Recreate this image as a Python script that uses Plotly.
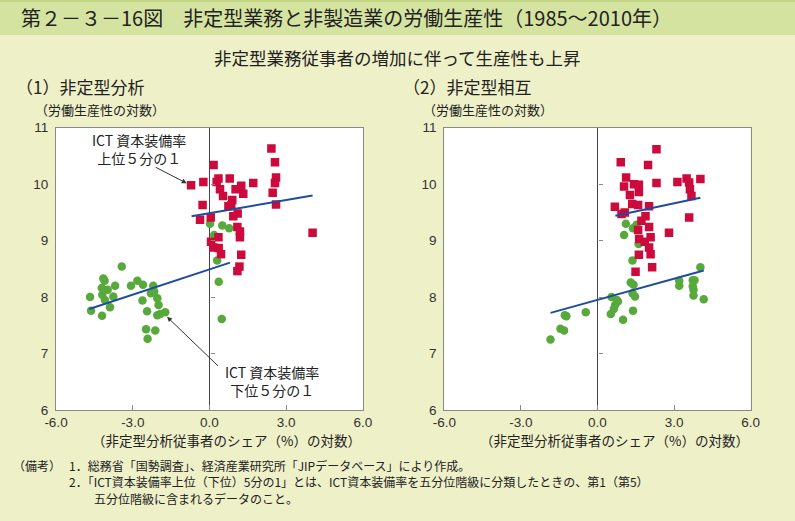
import plotly.graph_objects as go

W, H = 795, 521

# ---- data: (1) 非定型分析 ----
l_red_x = [-0.72, -0.24, 0.16, 0.35, 0.28, 0.79, 0.41, 0.53, 1.02, 1.24, 1.32, 1.71, 2.42, 2.56, 2.60, 2.56, 2.47, 2.60,
           0.89, 0.74, 0.85, -0.27, 1.10, 0.93, 0.05, -0.37, 1.09, 1.19, 1.19, 4.03, 0.35, 0.06, 0.15, 0.36, 0.45, 1.24, 1.17, 1.09]
l_red_y = [9.98, 10.04, 10.34, 10.10, 10.04, 10.10, 9.91, 9.79, 9.91, 9.97, 9.83, 10.02, 10.63, 10.39, 10.12, 10.02, 9.85, 9.64,
           9.72, 9.61, 9.62, 9.63, 9.48, 9.43, 9.41, 9.37, 9.24, 9.16, 9.06, 9.14, 9.06, 8.98, 8.88, 8.87, 8.76, 8.75, 8.54, 8.46]
l_grn_x = [0.02, 0.50, 0.77, 0.18, 0.30, 0.36, 0.48, -3.43, -4.15, -4.10, -3.69, -4.21, -3.98, -4.19, -4.09, -3.76, -4.67, -4.63,
           -4.20, -3.89, -3.07, -2.82, -2.60, -2.20, -2.16, -2.29, -2.04, -2.62, -1.99, -2.44, -2.04, -1.93, -1.73, -2.48, -2.12, -2.42]
l_grn_y = [9.30, 9.27, 9.22, 9.10, 8.65, 8.27, 7.61, 8.54, 8.33, 8.29, 8.20, 8.16, 8.13, 8.04, 7.95, 8.01, 8.00, 7.76,
           7.67, 7.82, 8.20, 8.29, 8.22, 8.20, 8.10, 8.07, 7.98, 7.94, 7.86, 7.75, 7.68, 7.70, 7.73, 7.43, 7.41, 7.26]
l_fit_hi_x = [-0.70, 4.03]
l_fit_hi_y = [9.43, 9.80]
l_fit_lo_x = [-4.70, 0.80]
l_fit_lo_y = [7.79, 8.61]

# ---- data: (2) 非定型相互 ----
r_red_x = [2.31, 0.91, 1.98, 1.12, 1.04, 1.43, 1.62, 1.62, 1.27, 2.31, 3.13, 3.49, 3.59, 3.62, 3.68, 4.03, 0.68, 1.36,
           1.59, 2.02, 0.94, 1.07, 1.88, 1.72, 3.59, 2.02, 1.59, 2.80, 1.63, 2.08, 1.85, 2.02, 2.08, 1.62, 2.14, 1.49]
r_red_y = [10.62, 10.39, 10.34, 10.12, 9.96, 10.00, 9.99, 9.86, 9.81, 10.02, 10.04, 10.10, 10.03, 9.91, 9.79, 10.09, 9.60, 9.65,
           9.63, 9.61, 9.47, 9.50, 9.43, 9.35, 9.41, 9.24, 9.19, 9.14, 9.03, 9.06, 8.98, 8.88, 8.76, 8.75, 8.53, 8.45]
r_grn_x = [1.11, 1.39, 1.53, 1.04, 1.61, 1.37, 4.03, 1.30, 1.41, 1.37, 1.47, 3.20, 3.20, 3.73, 3.80, 3.73, 3.76, 3.76, 4.16,
           0.55, 0.76, 0.80, 0.69, 0.64, 0.52, 1.00, 1.39, -0.46, -1.28, -1.22, -1.45, -1.31, -1.84]
r_grn_y = [9.30, 9.22, 9.28, 9.10, 8.94, 8.65, 8.53, 8.26, 8.22, 8.07, 8.01, 8.29, 8.20, 8.30, 8.30, 8.19, 8.13, 8.03, 7.96,
           8.00, 7.95, 7.92, 7.86, 7.79, 7.70, 7.60, 7.76, 7.73, 7.68, 7.66, 7.44, 7.41, 7.25]
r_fit_hi_x = [0.70, 4.03]
r_fit_hi_y = [9.44, 9.76]
r_fit_lo_x = [-1.84, 4.16]
r_fit_lo_y = [7.72, 8.47]

x_ticks = [-6, -3, 0, 3, 6]
x_tick_text = ["-6.0", "-3.0", "0.0", "3.0", "6.0"]
y_ticks = [6, 7, 8, 9, 10, 11]

RED = "#cc0a3c"
GREEN = "#58a93c"
BLUE = "#1f4c9e"
BG = "#eef0c8"
FONT = "Noto Sans CJK JP"
NUM = "Liberation Sans"

def px(x):
    return x / W

def py(y):
    return 1 - y / H

fig = go.Figure()

def add_panel(xa, ya, gx, gy, rx, ry, hx, hy, lx, ly):
    fig.add_trace(go.Scatter(x=gx, y=gy, mode="markers", xaxis=xa, yaxis=ya,
                             marker=dict(symbol="circle", size=8.5, color=GREEN), showlegend=False, hoverinfo="skip"))
    fig.add_trace(go.Scatter(x=rx, y=ry, mode="markers", xaxis=xa, yaxis=ya,
                             marker=dict(symbol="square", size=8.5, color=RED), showlegend=False, hoverinfo="skip"))
    fig.add_trace(go.Scatter(x=hx, y=hy, mode="lines", xaxis=xa, yaxis=ya,
                             line=dict(color=BLUE, width=2), showlegend=False, hoverinfo="skip"))
    fig.add_trace(go.Scatter(x=lx, y=ly, mode="lines", xaxis=xa, yaxis=ya,
                             line=dict(color=BLUE, width=2), showlegend=False, hoverinfo="skip"))

add_panel("x", "y", l_grn_x, l_grn_y, l_red_x, l_red_y, l_fit_hi_x, l_fit_hi_y, l_fit_lo_x, l_fit_lo_y)
add_panel("x2", "y2", r_grn_x, r_grn_y, r_red_x, r_red_y, r_fit_hi_x, r_fit_hi_y, r_fit_lo_x, r_fit_lo_y)
# dummy traces for tick axes on the zero line
fig.add_trace(go.Scatter(x=[None], y=[None], xaxis="x", yaxis="y3", showlegend=False))
fig.add_trace(go.Scatter(x=[None], y=[None], xaxis="x2", yaxis="y4", showlegend=False))

ydom = [py(410), py(127.7)]
L_dom = [px(56), px(363)]
R_dom = [px(444.3), px(750.7)]

xcommon = dict(range=[-6, 6], tickvals=x_ticks, ticktext=x_tick_text, ticks="inside", ticklen=5,
               tickcolor="#888", showline=True, mirror=True, linecolor="#8a8a8a", linewidth=1,
               showgrid=False, zeroline=True, zerolinecolor="#444", zerolinewidth=1,
               tickfont=dict(family=NUM, size=13.5, color="#333"), fixedrange=True)
ycommon = dict(range=[6, 11], tickvals=y_ticks, ticks="", showline=True, mirror=True,
               linecolor="#8a8a8a", linewidth=1, showgrid=False, zeroline=False,
               tickfont=dict(family=NUM, size=13.5, color="#333"), ticklabelstandoff=4, fixedrange=True)
ytickaxis = dict(range=[6, 11], tickvals=[7, 8, 9, 10], ticks="outside", ticklen=4, tickcolor="#888",
                 showticklabels=False, showline=False, showgrid=False, zeroline=False, side="right",
                 anchor="free", fixedrange=True)

fig.update_layout(
    width=W, height=H,
    margin=dict(l=0, r=0, t=0, b=0, pad=0, autoexpand=False),
    paper_bgcolor=BG, plot_bgcolor="white",
    xaxis=dict(domain=L_dom, anchor="y", **xcommon),
    yaxis=dict(domain=ydom, anchor="x", **ycommon),
    xaxis2=dict(domain=R_dom, anchor="y2", **xcommon),
    yaxis2=dict(domain=ydom, anchor="x2", **ycommon),
    yaxis3=dict(overlaying="y", position=px(209.5), **ytickaxis),
    yaxis4=dict(overlaying="y2", position=px(597.7), **ytickaxis),
)

shapes = [
    dict(type="rect", xref="paper", yref="paper", x0=0, x1=1, y0=py(35), y1=py(0),
         fillcolor="#d5e3a0", line=dict(width=0), layer="below"),
    dict(type="rect", xref="paper", yref="paper", x0=0, x1=1, y0=py(2), y1=py(0),
         fillcolor="#c2d685", line=dict(width=0), layer="below"),
]
fig.update_layout(shapes=shapes)

ann = []
def text(x, y, s, size, xanchor="left", family=FONT, color="#222", align="left", pad=1):
    ann.append(dict(x=px(x), y=py(y), xref="paper", yref="paper", text=s, showarrow=False,
                    xanchor=xanchor, yanchor="middle", align=align, borderpad=pad,
                    font=dict(family=family, size=size, color=color)))

text(19, 18, "第２－３－16図　非定型業務と非製造業の労働生産性（1985～2010年）", 20)
text(397, 58, "非定型業務従事者の増加に伴って生産性も上昇", 17.5, xanchor="center")
text(14, 87, "（1）非定型分析", 17)
text(401, 87, "（2）非定型相互", 17)
text(33, 110, "（労働生産性の対数）", 13)
text(421, 110, "（労働生産性の対数）", 13)
text(363, 440, "（非定型分析従事者のシェア（%）の対数）", 13.5, xanchor="right")
text(751, 440, "（非定型分析従事者のシェア（%）の対数）", 13.5, xanchor="right")
text(139, 149, "ICT 資本装備率<br>上位５分の１", 14, xanchor="center", align="center")
text(272, 381, "ICT 資本装備率<br>下位５分の１", 14, xanchor="center", align="center")
text(12, 465, "（備考）", 12, pad=0)
text(68, 465, "1．総務省「国勢調査」、経済産業研究所「JIPデータベース」により作成。", 12, pad=0)
text(68, 481.5, "2．「ICT資本装備率上位（下位）5分の1」とは、ICT資本装備率を五分位階級に分類したときの、第1（第5）", 12, pad=0)
text(93, 498, "五分位階級に含まれるデータのこと。", 12, pad=0)

# arrows
ann.append(dict(x=-0.89, y=10.016, xref="x", yref="y", ax=-33, ay=-17, text="", showarrow=True,
                width=1, height=1, arrowhead=2, arrowsize=1, arrowwidth=1, arrowcolor="#333"))
ann.append(dict(x=-1.66, y=7.65, xref="x", yref="y", ax=53, ay=51, text="", showarrow=True,
                width=1, height=1, arrowhead=2, arrowsize=1, arrowwidth=1, arrowcolor="#333"))
fig.update_layout(annotations=ann)

fig.write_html("out.html", config={"displayModeBar": False},
               post_script="document.body.style.margin='0';document.body.style.overflow='hidden';")
